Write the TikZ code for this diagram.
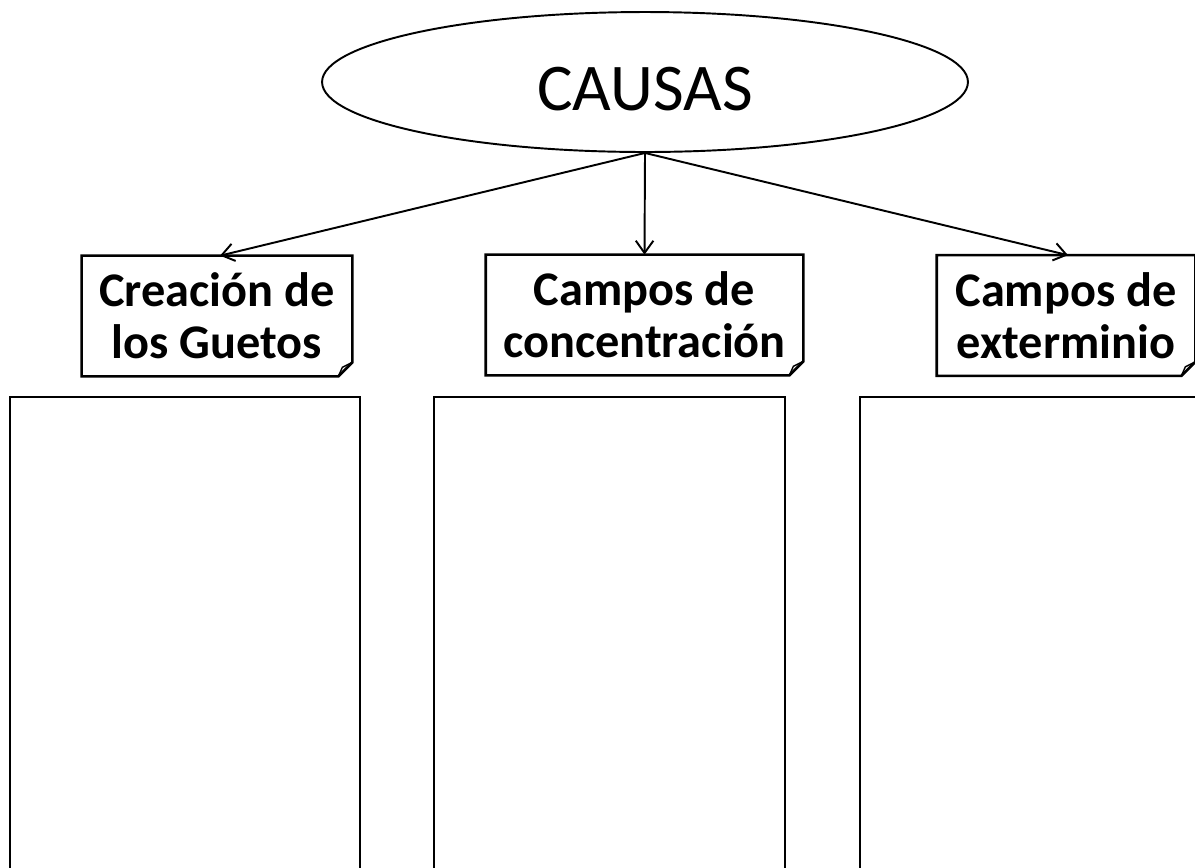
\documentclass[tikz,border=0pt]{standalone}
\usepackage{fontspec}
\setmainfont{Carlito}
\usetikzlibrary{shapes.geometric,arrows.meta,positioning}

\tikzset{
  causa/.style={draw, ellipse, line width=1.1pt, minimum width=12.92cm, minimum height=2.8cm, inner sep=0pt,
    text height=32pt, text depth=0pt, font=\fontsize{38}{42}\selectfont},
  nota/.style={minimum height=2.4cm, inner sep=0pt, align=center, font=\bfseries\fontsize{27.5}{29.5}\selectfont},
  caja/.style={draw, line width=1.5pt},
  flecha/.style={-{Straight Barb[length=7pt,width=10pt]}, line width=1.1pt}
}
% nota con la esquina doblada
\newcommand{\doblez}[1]{%
  \draw[line width=1.5pt] (#1.north west) -- (#1.north east) -- ([yshift=0.28cm]#1.south east)
    -- ([xshift=-0.28cm]#1.south east) -- (#1.south west) -- cycle;
  \draw[line width=0.8pt] ([yshift=0.28cm]#1.south east) -- ([xshift=-0.2cm,yshift=0.18cm]#1.south east)
    -- ([xshift=-0.28cm]#1.south east);
}

\begin{document}
\begin{tikzpicture}[x=0.02cm, y=-0.02cm]
    \useasboundingbox (0,0) rectangle (1195,867);
    \clip (0,0) rectangle (1195,867);

    \node[causa] (causas) at (645,82) {CAUSAS};

    \node[nota, minimum width=5.4cm] (guetos) at (217,316) {Creación de\\los Guetos};
    \node[nota, minimum width=6.34cm] (concentracion) at (644.5,315) {Campos de\\concentración};
    \node[nota, minimum width=5.16cm] (exterminio) at (1066,315.5) {Campos de\\exterminio};
    \doblez{guetos}
    \doblez{concentracion}
    \doblez{exterminio}

    \draw[flecha] (causas.south) -- ([xshift=0.06cm]guetos.north);
    \draw[flecha] (causas.south) -- (concentracion.north);
    \draw[flecha] (causas.south) -- ([xshift=0.04cm]exterminio.north);

    \draw[caja] (10,397) rectangle (360,900);
    \draw[caja] (434,397) rectangle (785,900);
    \draw[caja] (860,397) rectangle (1220,900);
\end{tikzpicture}
\end{document}
